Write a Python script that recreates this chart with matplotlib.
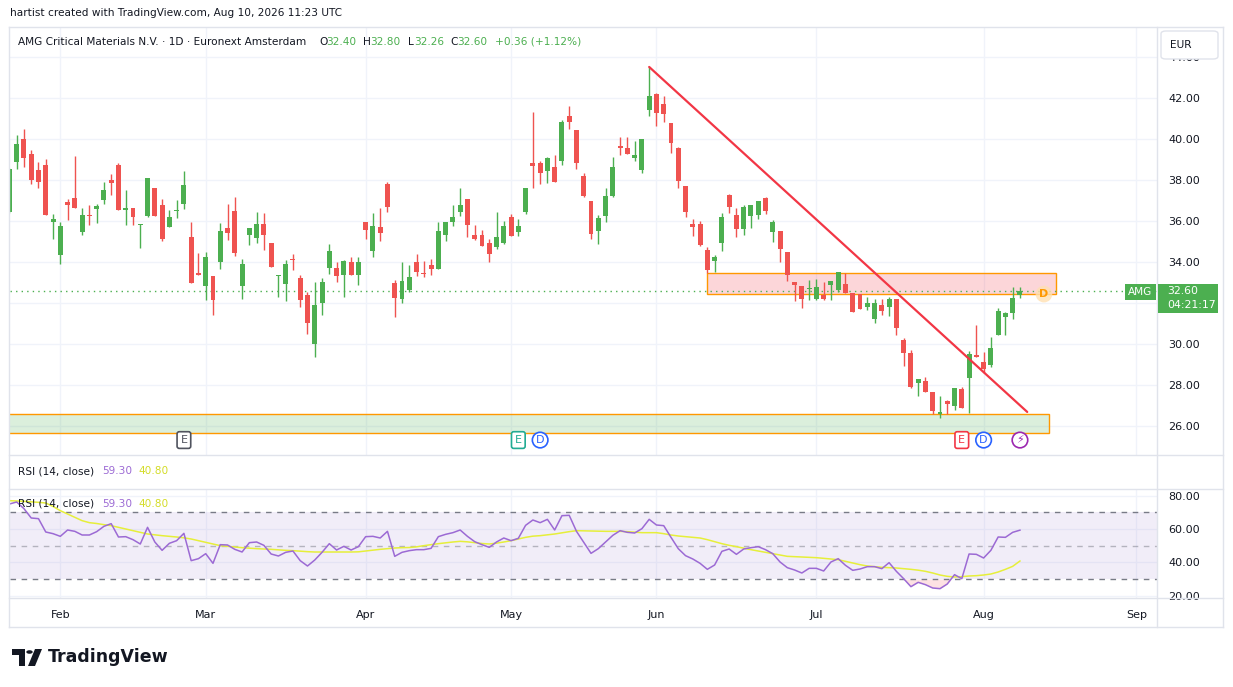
import matplotlib
matplotlib.use("Agg")
import matplotlib.pyplot as plt
import numpy as np
import pandas as pd
from matplotlib.patches import Rectangle, FancyBboxPatch, Polygon, Circle
from matplotlib.lines import Line2D

# ---------------- data ----------------
holidays = ["2026-04-03", "2026-04-06", "2026-05-01"]
calendar = [d for d in pd.bdate_range("2026-01-22", "2026-09-30")
            if d.strftime("%Y-%m-%d") not in holidays]
dates = [d for d in calendar if d <= pd.Timestamp("2026-08-10")]

opens = [36.47, 38.91, 40.02, 39.28, 38.50, 38.75, 35.98, 34.36, 36.94, 37.14,
         35.48, 36.31, 36.62, 37.04, 38.02, 38.75, 36.55, 36.65, 35.82, 36.26,
         37.63, 36.80, 35.72, 36.50, 36.85, 35.24, 33.48, 32.85, 33.35, 34.00,
         35.69, 36.52, 32.83, 35.32, 35.17, 35.89, 34.96, 33.32, 32.93, 34.13,
         33.25, 32.42, 30.00, 32.00, 33.71, 33.74, 33.37, 34.03, 33.37, 35.98,
         34.54, 35.74, 37.84, 33.01, 32.21, 32.65, 34.02, 33.48, 33.87, 33.68,
         35.33, 35.97, 36.46, 37.09, 35.33, 35.33, 34.94, 34.75, 34.94, 36.21,
         35.48, 36.46, 38.85, 38.85, 38.46, 38.65, 38.94, 41.14, 40.46, 38.21,
         36.99, 35.53, 36.26, 37.24, 39.63, 39.58, 39.09, 38.50, 41.43, 42.21,
         41.72, 40.80, 39.58, 37.72, 35.87, 35.87, 34.60, 34.07, 34.94, 37.28,
         36.31, 35.63, 36.26, 36.31, 37.14, 35.48, 35.53, 34.50, 33.04, 32.85,
         32.72, 32.21, 32.41, 32.89, 32.65, 32.94, 32.50, 32.46, 31.82, 31.24,
         31.92, 31.82, 32.21, 30.21, 29.58, 28.11, 28.21, 27.67, 26.60, 27.24,
         26.99, 27.82, 28.36, 29.48, 29.14, 28.99, 30.46, 31.33, 31.53, 32.40]
highs = [38.60, 40.21, 40.50, 39.48, 38.89, 39.04, 36.36, 35.97, 37.09, 39.19,
         36.65, 36.80, 36.85, 37.92, 38.31, 38.85, 37.53, 36.65, 35.87, 38.11,
         37.63, 37.09, 36.55, 37.04, 38.46, 35.97, 34.46, 34.50, 33.35, 35.93,
         36.86, 37.20, 34.18, 35.69, 36.47, 36.42, 34.96, 33.40, 34.13, 34.42,
         33.40, 32.57, 33.06, 33.25, 34.91, 34.03, 34.13, 34.28, 34.28, 35.98,
         36.42, 36.67, 37.93, 33.15, 34.00, 33.87, 34.41, 34.07, 34.16, 35.97,
         35.97, 36.80, 37.63, 37.09, 35.82, 35.58, 35.14, 36.46, 36.02, 36.36,
         36.11, 37.63, 41.33, 38.94, 39.14, 39.24, 40.94, 41.63, 40.46, 38.36,
         36.99, 36.31, 37.63, 39.14, 40.11, 40.11, 39.92, 40.02, 43.53, 42.26,
         42.11, 40.80, 39.63, 37.72, 36.11, 36.02, 34.75, 34.36, 36.41, 37.33,
         36.65, 36.80, 36.80, 36.99, 37.19, 36.07, 35.53, 34.50, 33.04, 32.85,
         33.14, 33.19, 33.04, 33.09, 33.53, 33.48, 32.50, 32.46, 32.31, 32.21,
         32.21, 32.31, 32.21, 30.31, 29.72, 28.31, 28.41, 27.67, 27.48, 27.29,
         27.87, 27.92, 29.67, 30.94, 29.63, 30.36, 31.77, 31.58, 32.80, 32.80]
lows = [36.40, 38.55, 38.67, 37.82, 37.63, 36.31, 35.14, 33.92, 36.07, 36.65,
        35.33, 35.82, 35.92, 36.85, 37.28, 36.55, 35.82, 35.82, 34.70, 36.21,
        36.26, 35.04, 35.72, 36.16, 36.60, 32.99, 33.38, 32.16, 31.41, 33.66,
        35.11, 34.29, 32.20, 34.83, 34.93, 34.59, 33.76, 32.29, 32.10, 33.61,
        31.80, 30.49, 29.37, 31.41, 33.41, 33.02, 32.29, 33.37, 32.88, 35.12,
        34.24, 35.02, 36.44, 31.32, 32.02, 32.55, 33.33, 33.28, 33.38, 33.68,
        35.04, 35.77, 36.26, 35.24, 35.09, 34.80, 34.02, 34.65, 34.89, 35.28,
        35.28, 36.36, 37.61, 37.82, 37.87, 37.92, 38.75, 40.50, 38.55, 37.19,
        35.14, 34.89, 35.97, 37.19, 39.24, 39.28, 38.94, 38.36, 41.14, 40.65,
        40.85, 39.33, 37.63, 36.21, 35.28, 34.80, 33.48, 33.53, 34.55, 36.41,
        35.24, 35.33, 35.67, 36.11, 36.36, 34.99, 34.02, 33.09, 32.11, 31.77,
        32.16, 32.16, 32.16, 32.16, 32.55, 32.50, 31.58, 31.72, 31.67, 31.04,
        31.43, 31.38, 30.46, 28.94, 27.87, 27.46, 27.67, 26.60, 26.41, 26.60,
        26.80, 26.89, 26.67, 29.38, 28.60, 28.89, 30.46, 30.46, 31.24, 32.26]
closes = [38.55, 39.77, 39.11, 38.02, 37.92, 36.31, 36.11, 35.77, 36.80, 36.65,
          36.31, 36.28, 36.75, 37.53, 37.87, 36.55, 36.65, 36.21, 35.87, 38.11,
          36.26, 35.14, 36.21, 36.55, 37.77, 32.99, 33.38, 34.26, 32.15, 35.54,
          35.45, 34.44, 33.93, 35.69, 35.89, 35.32, 33.76, 33.35, 33.93, 34.10,
          32.15, 31.02, 31.93, 33.06, 34.57, 33.32, 34.08, 33.37, 34.03, 35.59,
          35.79, 35.41, 36.68, 32.24, 33.09, 33.30, 33.53, 33.45, 33.67, 35.53,
          35.97, 36.21, 36.80, 35.82, 35.14, 34.80, 34.41, 35.24, 35.77, 35.28,
          35.77, 37.63, 38.70, 38.36, 39.09, 37.92, 40.85, 40.85, 38.85, 37.24,
          35.38, 36.16, 37.24, 38.65, 39.60, 39.28, 39.24, 40.02, 42.11, 41.28,
          41.24, 39.82, 37.97, 36.46, 35.72, 34.85, 33.63, 34.26, 36.21, 36.70,
          35.63, 36.70, 36.80, 36.99, 36.50, 35.97, 34.65, 33.38, 32.89, 32.21,
          32.75, 32.80, 32.21, 33.09, 33.53, 32.50, 31.58, 31.72, 32.02, 32.02,
          31.63, 32.21, 30.80, 29.58, 27.92, 28.31, 27.67, 26.75, 26.70, 27.09,
          27.87, 26.89, 29.53, 29.38, 28.80, 29.82, 31.63, 31.53, 32.24, 32.60]

rsi = [75.0, 76.2, 72.2, 66.6, 66.2, 58.2, 57.2, 55.6, 59.4, 58.6,
       56.4, 56.4, 58.4, 61.6, 63.2, 55.2, 55.4, 53.6, 51.0, 61.0,
       52.2, 47.2, 51.4, 53.0, 57.4, 41.0, 42.2, 45.2, 39.4, 50.6,
       50.4, 47.8, 46.2, 51.8, 52.2, 50.2, 45.0, 43.8, 46.0, 46.8,
       41.0, 37.8, 41.4, 46.0, 51.2, 47.4, 49.6, 47.4, 49.4, 55.4,
       55.6, 54.6, 58.6, 43.6, 46.0, 47.0, 47.6, 47.6, 48.4, 55.4,
       56.8, 57.8, 59.4, 55.6, 52.4, 50.6, 49.0, 52.2, 54.6, 53.0,
       54.4, 62.2, 65.4, 63.8, 65.8, 59.4, 68.0, 68.2, 58.6, 52.0,
       45.4, 48.2, 52.2, 56.2, 59.0, 58.0, 57.6, 60.2, 65.8, 62.4,
       62.0, 55.0, 48.2, 44.0, 42.0, 39.4, 35.8, 38.4, 46.6, 48.0,
       44.8, 48.0, 48.8, 49.4, 47.6, 45.2, 40.2, 36.8, 35.4, 33.6,
       36.4, 36.4, 34.8, 40.2, 42.2, 38.2, 35.2, 36.0, 37.4, 37.4,
       36.2, 39.8, 34.6, 30.2, 25.4, 28.0, 26.6, 24.6, 24.2, 27.0,
       32.6, 30.2, 45.0, 44.8, 42.6, 47.2, 55.2, 55.0, 58.0, 59.3]
rsi_ma = [77.0, 76.8, 76.6, 76.3, 76.0, 75.6, 73.5, 71.0, 69.0, 67.0,
          65.0, 63.8, 63.3, 62.6, 62.0, 61.0, 60.0, 59.0, 58.0, 57.0,
          56.5, 56.0, 55.6, 55.2, 54.7, 54.0, 53.0, 52.0, 51.0, 50.0,
          49.6, 49.2, 48.8, 48.5, 48.2, 48.0, 47.8, 47.5, 47.2, 47.0,
          46.7, 46.4, 46.2, 46.2, 46.2, 46.2, 46.2, 46.2, 46.3, 46.8,
          47.3, 47.8, 48.2, 48.6, 48.8, 48.9, 49.3, 50.0, 50.6, 51.2,
          51.7, 52.2, 52.6, 52.3, 51.8, 51.3, 51.0, 51.5, 52.2, 53.0,
          54.0, 55.0, 55.7, 56.0, 56.5, 57.0, 57.7, 58.4, 59.0, 58.9,
          58.8, 58.7, 58.6, 58.6, 58.6, 58.4, 58.1, 57.8, 57.8, 57.8,
          57.2, 56.4, 55.8, 55.4, 55.0, 54.6, 53.6, 52.4, 51.2, 50.2,
          49.4, 48.5, 47.6, 46.8, 46.0, 45.2, 44.4, 43.6, 43.4, 43.2,
          43.0, 42.8, 42.4, 42.0, 41.6, 40.6, 39.6, 38.6, 37.8, 37.4,
          37.0, 36.8, 36.6, 36.2, 35.8, 35.3, 34.6, 33.6, 32.4, 31.6,
          31.2, 31.4, 31.8, 32.0, 32.4, 33.0, 34.2, 35.8, 37.6, 40.8]

month_labels = ["Feb", "Mar", "Apr", "May", "Jun", "Jul", "Aug", "Sep"]
price_ticks = [26, 28, 30, 32, 34, 36, 38, 40, 42, 44]
rsi_ticks = [20, 40, 60, 80]

trend_start = ("2026-05-29", 43.53)
trend_end = ("2026-08-11", 26.70)
resist_zone = ("2026-06-10", "2026-08-17", 32.46, 33.48)
support_zone = ("2026-01-12", "2026-08-14", 25.68, 26.60)
last_price = 32.60
events = [("2026-02-25", "E", "#50535e"), ("2026-05-05", "E", "#22ab94"),
          ("2026-05-08", "D", "#2962ff"), ("2026-07-29", "E", "#f23645"),
          ("2026-08-03", "D", "#2962ff"), ("2026-08-10", "\u26a1", "#9c27b0")]

# ---------------- helpers ----------------
W, H = 1233, 687
UP, DN = "#4caf50", "#ef5350"
TXT = "#131722"
GRID = "#f0f3fa"
BORDER = "#e0e3eb"
pos = {d.strftime("%Y-%m-%d"): i for i, d in enumerate(calendar)}


def idx(s):
    if s in pos:
        return pos[s]
    return (pd.Timestamp(s) - pd.Timestamp("2026-01-22")).days * 5 / 7


def frect(x0, y0, x1, y1):
    return [x0 / W, 1 - y1 / H, (x1 - x0) / W, (y1 - y0) / H]


def fx(x):
    return x / W


def fy(y):
    return 1 - y / H


fig = plt.figure(figsize=(W / 100, H / 100), dpi=100)
fig.patch.set_facecolor("white")

o = np.array(opens); h = np.array(highs); l = np.array(lows); c = np.array(closes)
x = np.arange(len(dates))
cols = np.where(c >= o, UP, DN)

month_pos = []
for m in month_labels:
    mnum = pd.Timestamp(f"2026-{m}-01").month
    month_pos.append(next(i for i, d in enumerate(calendar) if d.month == mnum))

XL = (0.08, 157.85)

# ---------------- main pane ----------------
ax = fig.add_axes(frect(10, 28, 1157, 455))
ax.set_xlim(*XL)
ax.set_ylim(24.60, 45.43)
for s in ax.spines.values():
    s.set_visible(False)
ax.set_yticks(price_ticks)
# the 32.00 label sits under the last-price tag in the reference
ax.set_yticklabels(["" if v == 32 else f"{v:.2f}" for v in price_ticks])
ax.yaxis.tick_right()
ax.tick_params(axis="y", length=0, pad=8, labelsize=8, labelcolor=TXT)
ax.set_xticks(month_pos)
ax.tick_params(axis="x", length=0, labelbottom=False)
ax.grid(True, color=GRID, linewidth=1)
ax.set_axisbelow(True)

# zones
rz0, rz1 = idx(resist_zone[0]), idx(resist_zone[1])
ax.add_patch(Rectangle((rz0, resist_zone[2]), rz1 - rz0, resist_zone[3] - resist_zone[2],
                       facecolor="#f23645", alpha=0.2, edgecolor="none", zorder=1))
ax.add_patch(Rectangle((rz0, resist_zone[2]), rz1 - rz0, resist_zone[3] - resist_zone[2],
                       facecolor="none", edgecolor="#ff9800", linewidth=1, zorder=1.1))
sz0, sz1 = idx(support_zone[0]), idx(support_zone[1])
ax.add_patch(Rectangle((sz0, support_zone[2]), sz1 - sz0, support_zone[3] - support_zone[2],
                       facecolor="#4caf50", alpha=0.2, edgecolor="none", zorder=1))
ax.add_patch(Rectangle((sz0, support_zone[2]), sz1 - sz0, support_zone[3] - support_zone[2],
                       facecolor="none", edgecolor="#ff9800", linewidth=1, zorder=1.1))

# candles
ax.vlines(x, l, h, colors=cols, linewidth=1.0, zorder=3)
body_b = np.minimum(o, c)
body_h = np.maximum(np.abs(c - o), 0.05)
ax.bar(x, body_h, bottom=body_b, width=0.68, color=cols, linewidth=0, zorder=4)

# last price dotted line
ax.axhline(last_price, color=UP, linewidth=1, linestyle=(0, (1, 3)), zorder=2)

# trend line
ax.plot([idx(trend_start[0]), idx(trend_end[0])], [trend_start[1], trend_end[1]],
        color="#f23645", linewidth=1.6, zorder=5, solid_capstyle="round")

# ---------------- RSI pane ----------------
rax = fig.add_axes(frect(10, 489, 1157, 598))
rax.set_xlim(*XL)
rax.set_ylim(18.6, 84.0)
for s in rax.spines.values():
    s.set_visible(False)
rax.set_yticks(rsi_ticks)
rax.set_yticklabels([f"{v:.2f}" for v in rsi_ticks])
rax.yaxis.tick_right()
rax.tick_params(axis="y", length=0, pad=8, labelsize=8, labelcolor=TXT)
rax.set_xticks(month_pos)
rax.set_xticklabels(month_labels)
rax.tick_params(axis="x", length=0, pad=9, labelsize=8, labelcolor=TXT)
rax.grid(True, color=GRID, linewidth=1)
rax.set_axisbelow(True)
rax.axhspan(30, 70, color="#7e57c2", alpha=0.1, linewidth=0)
rax.axhline(70, color="#787b86", linewidth=1, linestyle=(0, (4, 4)))
rax.axhline(30, color="#787b86", linewidth=1, linestyle=(0, (4, 4)))
rax.axhline(50, color="#787b86", linewidth=1, alpha=0.5, linestyle=(0, (4, 4)))
r = np.array(rsi)
rax.fill_between(x, r, 30, where=r < 30, interpolate=True, color="#f23645",
                 alpha=0.15, linewidth=0)
rax.plot(x, rsi_ma, color="#e6ef3a", linewidth=1.1, zorder=3)
rax.plot(x, rsi, color="#9c6ad4", linewidth=1.1, zorder=4)

# ---------------- frame lines ----------------
def fline(x0, y0, x1, y1, color=BORDER, lw=1.0):
    fig.add_artist(Line2D([fx(x0), fx(x1)], [fy(y0), fy(y1)], transform=fig.transFigure,
                          color=color, linewidth=lw))


fline(9, 27, 1223, 27)
fline(9, 627, 1223, 627)
fline(9, 27, 9, 627)
fline(1223, 27, 1223, 627)
fline(1157, 27, 1157, 627)
fline(9, 455, 1223, 455)
fline(9, 489, 1223, 489)
fline(9, 598, 1223, 598)


def frect_patch(x0, y0, x1, y1, color, z=10):
    fig.add_artist(Rectangle((fx(x0), fy(y1)), (x1 - x0) / W, (y1 - y0) / H,
                             transform=fig.transFigure, facecolor=color,
                             edgecolor="none", zorder=z))


# ---------------- texts ----------------
fig.text(fx(10), fy(13), "hartist created with TradingView.com, Aug 10, 2026 11:23 UTC",
         fontsize=7.6, color=TXT, va="center", ha="left")
fig.text(fx(18), fy(42), "AMG Critical Materials N.V. \u00b7 1D \u00b7 Euronext Amsterdam",
         fontsize=7.6, color=TXT, va="center", ha="left")
for xx, t, colr in [(319, "O", TXT), (326, "32.40", UP), (363, "H", TXT), (370, "32.80", UP),
                    (408, "L", TXT), (414, "32.26", UP), (450, "C", TXT), (457, "32.60", UP),
                    (495, "+0.36 (+1.12%)", UP)]:
    fig.text(fx(xx), fy(42), t, fontsize=7.6, color=colr, va="center", ha="left")

for yy in (471, 504):
    fig.text(fx(18), fy(yy), "RSI (14, close)", fontsize=7.6, color=TXT, va="center", ha="left")
    fig.text(fx(102), fy(yy), "59.30", fontsize=7.6, color="#9c6ad4", va="center", ha="left")
    fig.text(fx(138), fy(yy), "40.80", fontsize=7.6, color="#d4dc28", va="center", ha="left")

# EUR box (covers most of the 44.00 label, as in the reference)
fig.add_artist(FancyBboxPatch((fx(1161), fy(59)), 57 / W, 28 / H,
                              boxstyle="round,pad=0,rounding_size=0.004",
                              transform=fig.transFigure, facecolor="white", edgecolor=BORDER,
                              linewidth=1, zorder=10))
fig.text(fx(1170), fy(45), "EUR", fontsize=7.6, color=TXT, va="center", ha="left", zorder=11)

# last price labels
frect_patch(1125, 284, 1156, 300, UP)
fig.text(fx(1140.5), fy(292), "AMG", fontsize=7.6, color="white", va="center", ha="center", zorder=11)
frect_patch(1158, 284, 1218, 313, UP)
fig.text(fx(1167), fy(291.5), "32.60", fontsize=7.8, color="white", va="center", ha="left", zorder=11)
fig.text(fx(1167), fy(305.5), "04:21:17", fontsize=7.8, color="white", va="center", ha="left", zorder=11)

# dividend badge near last bar
ax.text(idx("2026-08-13") + 0.3, 32.45, "D", fontsize=8, color="#ff9800", ha="center",
        va="center", zorder=6, fontweight="bold",
        bbox=dict(boxstyle="circle,pad=0.3", facecolor="#ffe0b2", edgecolor="none", alpha=0.8))

# event badges
for d, t, colr in events:
    style = "circle,pad=0.25" if t != "E" else "round,pad=0.3,rounding_size=0.2"
    ax.text(idx(d), 0.035, t, transform=ax.get_xaxis_transform(), fontsize=8, color=colr,
            ha="center", va="center", zorder=7,
            bbox=dict(boxstyle=style, facecolor="white", edgecolor=colr, linewidth=1.2))

# TradingView logo
def fpoly(pts, color="#131722"):
    fig.add_artist(Polygon([(fx(px), fy(py)) for px, py in pts], closed=True,
                           transform=fig.transFigure, facecolor=color, edgecolor="none"))


fpoly([(12, 649), (25, 649), (25, 666), (19, 666), (19, 655), (12, 655)])
fig.add_artist(Circle((fx(29.5), fy(652)), 3.2 / W, transform=fig.transFigure,
                      facecolor="#131722", edgecolor="none"))
fpoly([(35, 649), (42, 649), (35, 666), (28, 666)])
fig.text(fx(48), fy(657), "TradingView", fontsize=12.5, fontweight="bold", color=TXT,
         va="center", ha="left")

fig.savefig("out.png", dpi=100, facecolor="white")
